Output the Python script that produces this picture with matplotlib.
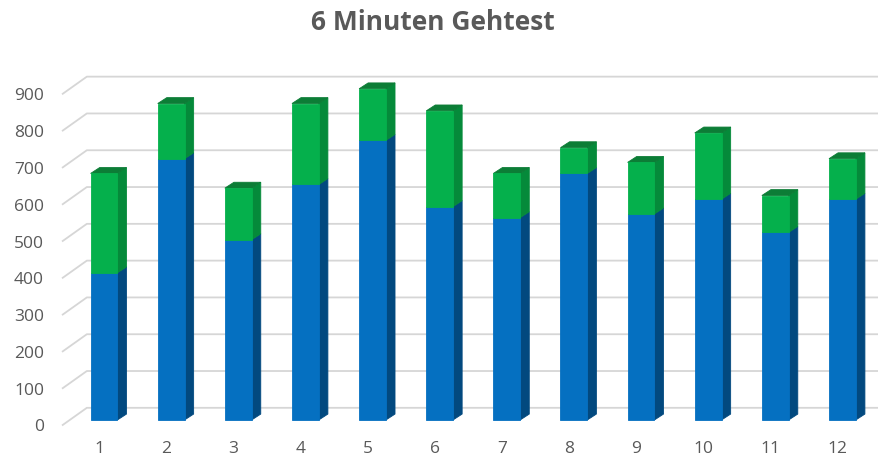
import numpy as np
import matplotlib
matplotlib.use("Agg")
import matplotlib.pyplot as plt
from matplotlib.patches import Polygon

# ── data ───────────────────────────────────────────────────────────────────────
categories = ["1", "2", "3", "4", "5", "6", "7", "8", "9", "10", "11", "12"]
blue_vals  = [400, 710, 490, 640, 760, 580, 550, 670, 560, 600, 510, 600]
green_vals = [270, 150, 140, 220, 140, 260, 120, 70, 140, 180, 100, 110]
y_ticks    = [0, 100, 200, 300, 400, 500, 600, 700, 800, 900]

TITLE = "6 Minuten Gehtest"

# ── style ──────────────────────────────────────────────────────────────────────
BLUE_FRONT  = "#0570c1"
BLUE_SIDE   = "#02497f"
BLUE_TOP    = "#0a5a9a"
GREEN_FRONT = "#05b04c"
GREEN_SIDE  = "#058a3a"
GREEN_TOP   = "#0c7d36"
GRID_COL    = "#d6d6d6"
TEXT_COL    = "#595959"

BAR_W    = 0.40     # front face width (x units)
DEPTH_X  = 0.135    # bar side depth
DEPTH_Y  = 16       # bar side rise (value units)
WALL_X   = 0.37     # floor / wall depth
WALL_Y   = 33
FRONT_DY = -15

plt.rcParams["font.family"] = ["Open Sans", "DejaVu Sans"]

fig = plt.figure(figsize=(8.85, 4.59), dpi=100)
ax = fig.add_axes([62 / 885, 28 / 459, 816 / 885, 379 / 459])
ax.set_xlim(0.374, 12.53)
ax.set_ylim(-30, 1000)

x = np.arange(1, len(categories) + 1)
x_left = ax.get_xlim()[0]
x_right = ax.get_xlim()[1]

# back wall grid with diagonal on the side wall
for v in y_ticks:
    ax.plot([x_left, x_left + WALL_X, x_right], [v + FRONT_DY, v + WALL_Y, v + WALL_Y],
            color=GRID_COL, lw=1.3, zorder=1, clip_on=False, solid_capstyle="butt")


def box(xc, y0, y1, front, side, top, draw_top):
    l, r = xc - BAR_W / 2, xc + BAR_W / 2
    ax.add_patch(Polygon([(r, y0), (r + DEPTH_X, y0 + DEPTH_Y),
                          (r + DEPTH_X, y1 + DEPTH_Y), (r, y1)],
                         closed=True, fc=side, ec=side, lw=0.6, zorder=3))
    if draw_top:
        ax.add_patch(Polygon([(l, y1), (r, y1), (r + DEPTH_X, y1 + DEPTH_Y),
                              (l + DEPTH_X, y1 + DEPTH_Y)],
                             closed=True, fc=top, ec=top, lw=0.6, zorder=3))
    ax.add_patch(Polygon([(l, y0), (r, y0), (r, y1), (l, y1)],
                         closed=True, fc=front, ec=front, lw=0.6, zorder=4))


for xi, b, g in zip(x, blue_vals, green_vals):
    box(xi, 0, b, BLUE_FRONT, BLUE_SIDE, BLUE_TOP, g == 0)
    box(xi, b, b + g, GREEN_FRONT, GREEN_SIDE, GREEN_TOP, True)

# axes text
ax.set_yticks([v + FRONT_DY for v in y_ticks])
ax.set_yticklabels([str(v) for v in y_ticks])
ax.set_xticks(x - 0.07)
ax.set_xticklabels(categories)
ax.tick_params(axis="both", length=0, labelsize=12.5, colors=TEXT_COL)
ax.tick_params(axis="y", pad=13)
ax.tick_params(axis="x", pad=7)
for s in ax.spines.values():
    s.set_visible(False)

fig.text(433 / 885, 1 - 23 / 459, TITLE, ha="center", va="center",
         fontsize=19, fontweight="bold", color=TEXT_COL)

fig.savefig("out.png", dpi=100)
plt.close()
